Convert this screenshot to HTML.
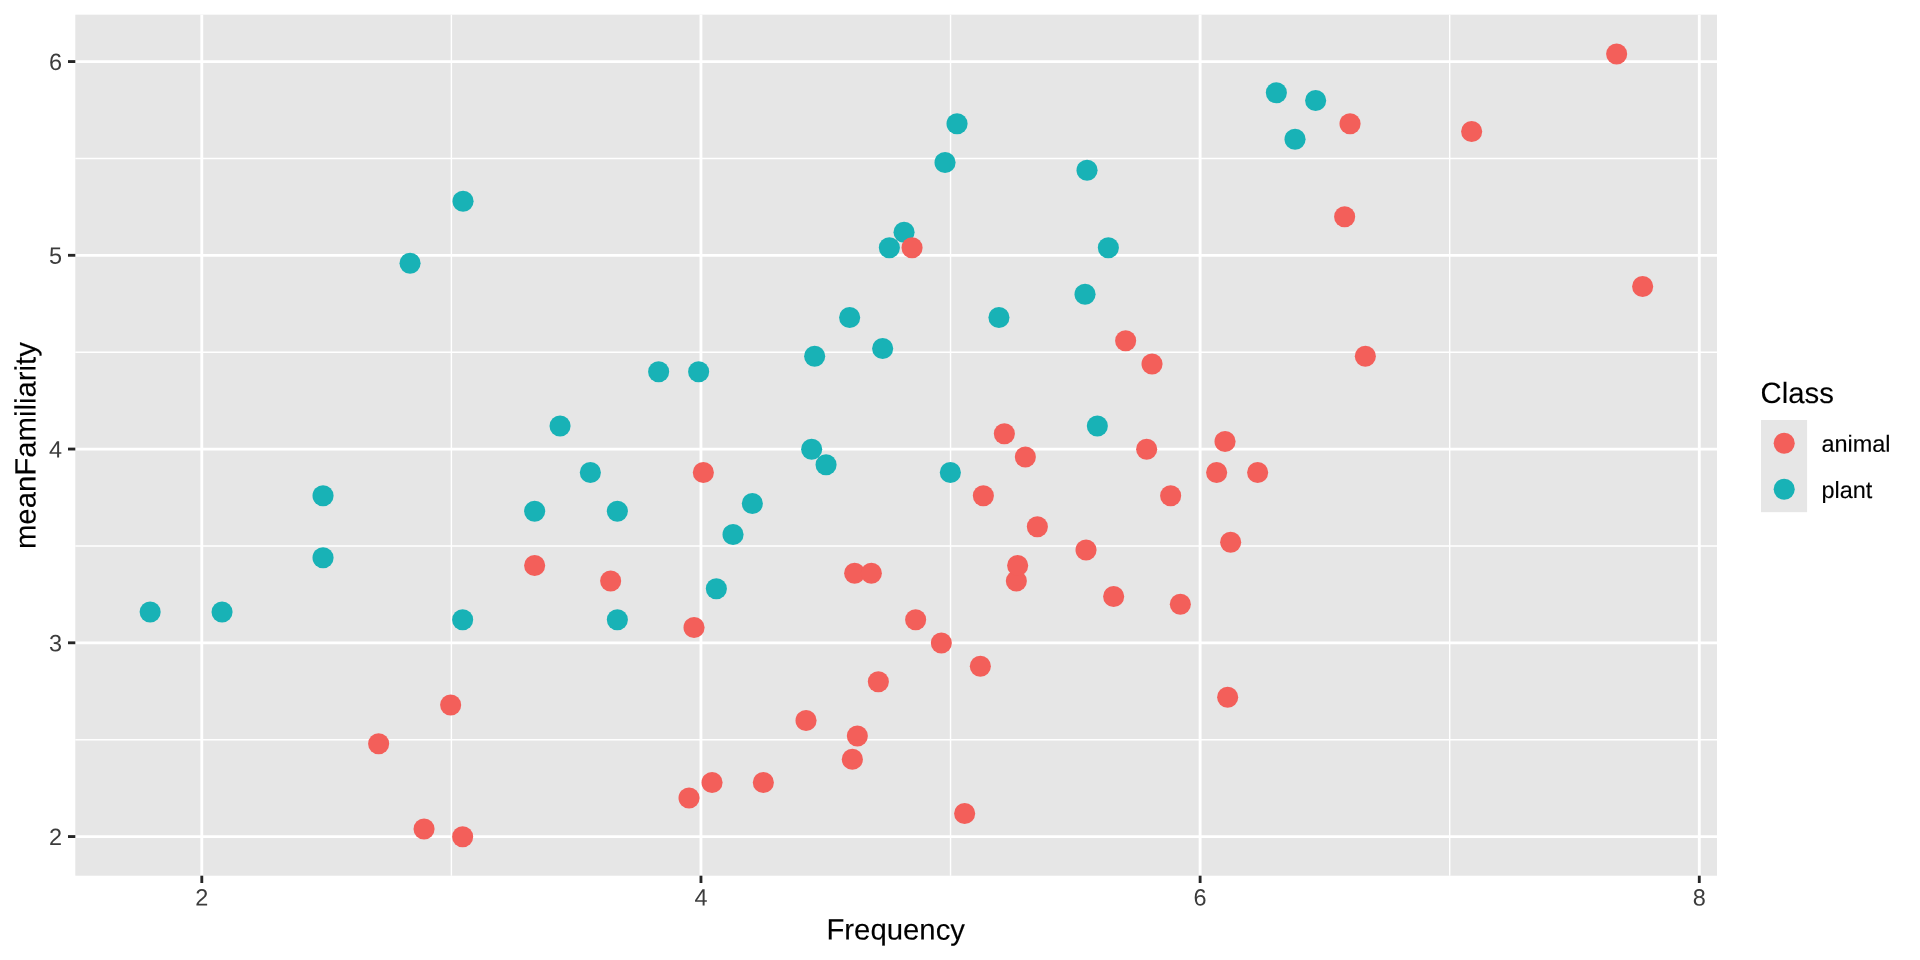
<!DOCTYPE html>
<html><head><meta charset="utf-8"><title>plot</title>
<style>
html,body{margin:0;padding:0;background:#fff;}
body{width:1920px;height:960px;overflow:hidden;}
svg{display:block;will-change:transform;text-rendering:geometricPrecision;}
text{font-family:"Liberation Sans",sans-serif;}
.ax{font-size:23.47px;fill:#3C3C3C;}
.tt{font-size:29.33px;fill:#000;stroke:#000;stroke-width:0.12px;}
.lg{font-size:23.47px;fill:#000;stroke:#000;stroke-width:0.12px;}
</style></head><body>
<svg width="1920" height="960" viewBox="0 0 1920 960">
<rect x="0" y="0" width="1920" height="960" fill="#fff"/>
<rect x="75.3" y="14.67" width="1641.70" height="861.03" fill="#E6E6E6"/>
<g stroke="#fff" stroke-width="1.42">
<line x1="75.3" x2="1717.0" y1="739.67" y2="739.67"/>
<line x1="75.3" x2="1717.0" y1="545.92" y2="545.92"/>
<line x1="75.3" x2="1717.0" y1="352.17" y2="352.17"/>
<line x1="75.3" x2="1717.0" y1="158.42" y2="158.42"/>
<line y1="14.67" y2="875.7" x1="451.38" x2="451.38"/>
<line y1="14.67" y2="875.7" x1="950.54" x2="950.54"/>
<line y1="14.67" y2="875.7" x1="1449.70" x2="1449.70"/>
</g>
<g stroke="#fff" stroke-width="2.85">
<line x1="75.3" x2="1717.0" y1="836.55" y2="836.55"/>
<line x1="75.3" x2="1717.0" y1="642.80" y2="642.80"/>
<line x1="75.3" x2="1717.0" y1="449.05" y2="449.05"/>
<line x1="75.3" x2="1717.0" y1="255.30" y2="255.30"/>
<line x1="75.3" x2="1717.0" y1="61.55" y2="61.55"/>
<line y1="14.67" y2="875.7" x1="201.80" x2="201.80"/>
<line y1="14.67" y2="875.7" x1="700.96" x2="700.96"/>
<line y1="14.67" y2="875.7" x1="1200.12" x2="1200.12"/>
<line y1="14.67" y2="875.7" x1="1699.28" x2="1699.28"/>
</g>
<g fill="#18B2B6">
<circle cx="150.15" cy="612.05" r="10.55"/>
<circle cx="222.05" cy="612.05" r="10.55"/>
<circle cx="323.05" cy="495.80" r="10.55"/>
<circle cx="323.05" cy="557.80" r="10.55"/>
<circle cx="410.05" cy="263.30" r="10.55"/>
<circle cx="463.05" cy="201.30" r="10.55"/>
<circle cx="462.65" cy="619.80" r="10.55"/>
<circle cx="534.65" cy="511.30" r="10.55"/>
<circle cx="560.05" cy="426.05" r="10.55"/>
<circle cx="590.35" cy="472.55" r="10.55"/>
<circle cx="617.35" cy="511.30" r="10.55"/>
<circle cx="617.35" cy="619.80" r="10.55"/>
<circle cx="658.65" cy="371.80" r="10.55"/>
<circle cx="698.65" cy="371.80" r="10.55"/>
<circle cx="716.35" cy="588.80" r="10.55"/>
<circle cx="733.05" cy="534.55" r="10.55"/>
<circle cx="752.35" cy="503.55" r="10.55"/>
<circle cx="811.65" cy="449.30" r="10.55"/>
<circle cx="814.65" cy="356.30" r="10.55"/>
<circle cx="826.05" cy="464.80" r="10.55"/>
<circle cx="849.65" cy="317.55" r="10.55"/>
<circle cx="882.65" cy="348.55" r="10.55"/>
<circle cx="904.05" cy="232.30" r="10.55"/>
<circle cx="889.35" cy="247.80" r="10.55"/>
<circle cx="945.05" cy="162.55" r="10.55"/>
<circle cx="950.35" cy="472.55" r="10.55"/>
<circle cx="957.05" cy="123.80" r="10.55"/>
<circle cx="998.95" cy="317.55" r="10.55"/>
<circle cx="1085.05" cy="294.30" r="10.55"/>
<circle cx="1087.05" cy="170.30" r="10.55"/>
<circle cx="1097.35" cy="426.05" r="10.55"/>
<circle cx="1108.35" cy="247.80" r="10.55"/>
<circle cx="1276.35" cy="92.80" r="10.55"/>
<circle cx="1295.05" cy="139.30" r="10.55"/>
<circle cx="1315.65" cy="100.55" r="10.55"/>
</g>
<g fill="#F35F5A">
<circle cx="378.65" cy="743.80" r="10.55"/>
<circle cx="424.05" cy="829.05" r="10.55"/>
<circle cx="450.65" cy="705.05" r="10.55"/>
<circle cx="462.65" cy="836.80" r="10.55"/>
<circle cx="534.65" cy="565.55" r="10.55"/>
<circle cx="610.65" cy="581.05" r="10.55"/>
<circle cx="689.05" cy="798.05" r="10.55"/>
<circle cx="694.05" cy="627.55" r="10.55"/>
<circle cx="703.35" cy="472.55" r="10.55"/>
<circle cx="712.05" cy="782.55" r="10.55"/>
<circle cx="763.35" cy="782.55" r="10.55"/>
<circle cx="806.05" cy="720.55" r="10.55"/>
<circle cx="852.35" cy="759.30" r="10.55"/>
<circle cx="854.65" cy="573.30" r="10.55"/>
<circle cx="857.35" cy="736.05" r="10.55"/>
<circle cx="871.35" cy="573.30" r="10.55"/>
<circle cx="878.35" cy="681.80" r="10.55"/>
<circle cx="912.05" cy="247.80" r="10.55"/>
<circle cx="915.65" cy="619.80" r="10.55"/>
<circle cx="941.35" cy="643.05" r="10.55"/>
<circle cx="964.65" cy="813.55" r="10.55"/>
<circle cx="980.35" cy="666.30" r="10.55"/>
<circle cx="983.35" cy="495.80" r="10.55"/>
<circle cx="1004.35" cy="433.80" r="10.55"/>
<circle cx="1016.35" cy="581.05" r="10.55"/>
<circle cx="1017.65" cy="565.55" r="10.55"/>
<circle cx="1025.35" cy="457.05" r="10.55"/>
<circle cx="1037.35" cy="526.80" r="10.55"/>
<circle cx="1086.05" cy="550.05" r="10.55"/>
<circle cx="1113.65" cy="596.55" r="10.55"/>
<circle cx="1125.65" cy="340.80" r="10.55"/>
<circle cx="1146.65" cy="449.30" r="10.55"/>
<circle cx="1152.05" cy="364.05" r="10.55"/>
<circle cx="1170.65" cy="495.80" r="10.55"/>
<circle cx="1180.35" cy="604.30" r="10.55"/>
<circle cx="1216.65" cy="472.55" r="10.55"/>
<circle cx="1225.05" cy="441.55" r="10.55"/>
<circle cx="1227.65" cy="697.30" r="10.55"/>
<circle cx="1230.65" cy="542.30" r="10.55"/>
<circle cx="1257.65" cy="472.55" r="10.55"/>
<circle cx="1344.65" cy="216.80" r="10.55"/>
<circle cx="1350.05" cy="123.80" r="10.55"/>
<circle cx="1365.35" cy="356.30" r="10.55"/>
<circle cx="1471.65" cy="131.55" r="10.55"/>
<circle cx="1616.65" cy="54.05" r="10.55"/>
<circle cx="1642.65" cy="286.55" r="10.55"/>
</g>
<g stroke="#262626" stroke-width="2.85">
<line x1="67.97" x2="75.3" y1="836.55" y2="836.55"/>
<line x1="67.97" x2="75.3" y1="642.80" y2="642.80"/>
<line x1="67.97" x2="75.3" y1="449.05" y2="449.05"/>
<line x1="67.97" x2="75.3" y1="255.30" y2="255.30"/>
<line x1="67.97" x2="75.3" y1="61.55" y2="61.55"/>
<line y1="875.7" y2="883.03" x1="201.80" x2="201.80"/>
<line y1="875.7" y2="883.03" x1="700.96" x2="700.96"/>
<line y1="875.7" y2="883.03" x1="1200.12" x2="1200.12"/>
<line y1="875.7" y2="883.03" x1="1699.28" x2="1699.28"/>
</g>
<text class="ax" text-anchor="end" x="62.1" y="844.95" transform="rotate(0.05 62.1 844.95)">2</text>
<text class="ax" text-anchor="end" x="62.1" y="651.20" transform="rotate(0.05 62.1 651.20)">3</text>
<text class="ax" text-anchor="end" x="62.1" y="457.45" transform="rotate(0.05 62.1 457.45)">4</text>
<text class="ax" text-anchor="end" x="62.1" y="263.70" transform="rotate(0.05 62.1 263.70)">5</text>
<text class="ax" text-anchor="end" x="62.1" y="69.95" transform="rotate(0.05 62.1 69.95)">6</text>
<text class="ax" text-anchor="middle" x="201.80" y="905.5" transform="rotate(0.05 201.80 905.5)">2</text>
<text class="ax" text-anchor="middle" x="700.96" y="905.5" transform="rotate(0.05 700.96 905.5)">4</text>
<text class="ax" text-anchor="middle" x="1200.12" y="905.5" transform="rotate(0.05 1200.12 905.5)">6</text>
<text class="ax" text-anchor="middle" x="1699.28" y="905.5" transform="rotate(0.05 1699.28 905.5)">8</text>
<text class="tt" text-anchor="middle" x="895.7" y="939.6" transform="rotate(0.05 895.7 939.6)">Frequency</text>
<text class="tt" text-anchor="middle" transform="translate(35.5,445.6) rotate(-89.95)">meanFamiliarity</text>
<text class="tt" x="1760.6" y="403.0" transform="rotate(0.05 1760.6 403.0)">Class</text>
<rect x="1761" y="420" width="46.08" height="92.16" fill="#E6E6E6"/>
<circle cx="1784.2" cy="443.2" r="10.55" fill="#F35F5A"/>
<circle cx="1784.2" cy="489.3" r="10.55" fill="#18B2B6"/>
<text class="lg" x="1821.4" y="451.75" transform="rotate(0.05 1821.4 451.75)">animal</text>
<text class="lg" x="1821.4" y="497.95" transform="rotate(0.05 1821.4 497.95)">plant</text>
</svg>
</body></html>
